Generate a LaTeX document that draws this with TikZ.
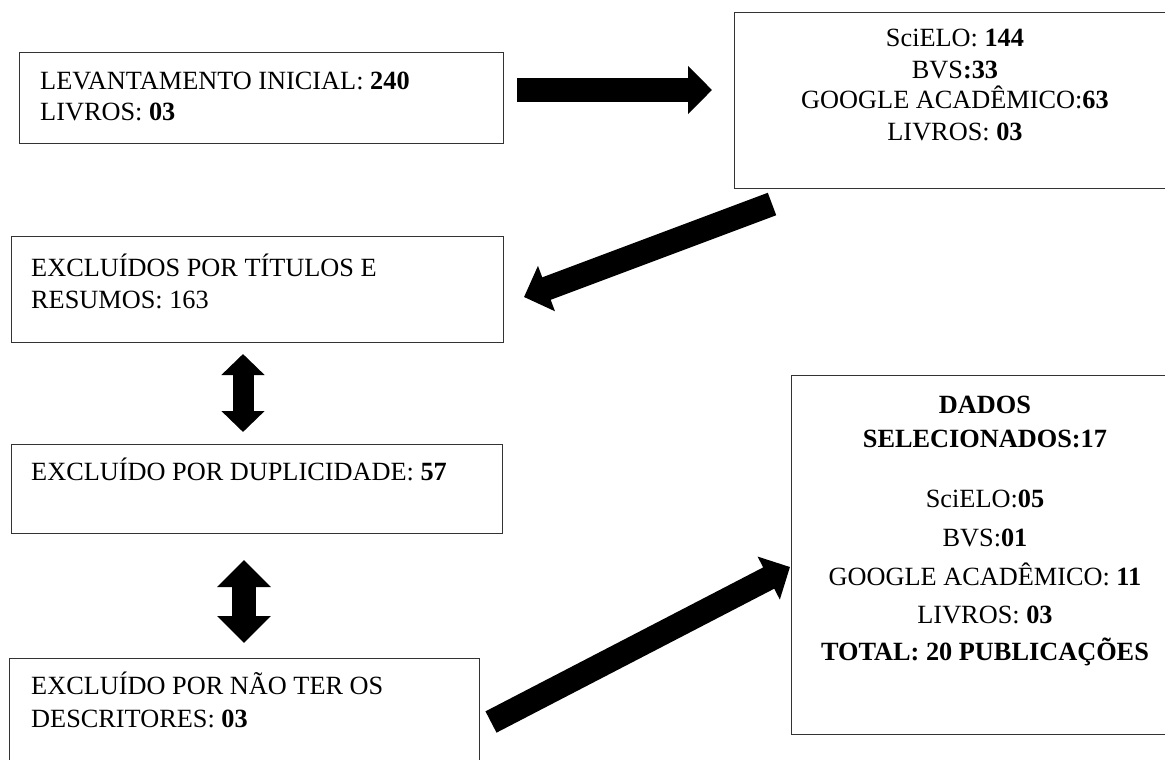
\documentclass[tikz,border=0pt]{standalone}
\usepackage{fontspec}
\setmainfont{Liberation Serif}
\usetikzlibrary{arrows.meta}
\begin{document}
\begin{tikzpicture}[x=1pt,y=-1pt,
  box/.style={draw=black!80, line width=1.3pt, rectangle, inner sep=0pt, anchor=north west},
  lbl/.style={inner sep=0pt, font=\fontsize{26.3}{31}\selectfont},
  txl/.style={lbl, anchor=base west},
  txc/.style={lbl, anchor=base},
  fat/.style={line width=24pt, -{Triangle[width=47pt,length=24pt]}},
  dblsmall/.style={line width=21pt, {Triangle[width=42pt,length=21pt]}-{Triangle[width=42pt,length=21pt]}},
  dblbig/.style={line width=24pt, {Triangle[width=52pt,length=27pt]}-{Triangle[width=52pt,length=27pt]}},
]
\useasboundingbox (0,0) rectangle (1165,760);
\clip (0,0) rectangle (1165,760);
\fill[white] (0,0) rectangle (1165,760);

% boxes
\node[box, minimum width=484pt, minimum height=91pt] (b1) at (19,52) {};
\node[box, minimum width=442pt, minimum height=176pt] (b2) at (734,12) {};
\node[box, minimum width=492pt, minimum height=106pt] (b3) at (11,236) {};
\node[box, minimum width=491pt, minimum height=89pt] (b4) at (11,444) {};
\node[box, minimum width=470pt, minimum height=130pt] (b5) at (9,658) {};
\node[box, minimum width=388pt, minimum height=359pt] (b6) at (791,375) {};

% texts
\node[txl] (t1a) at (40,89) {LEVANTAMENTO INICIAL: \textbf{240}};
\node[txl] (t1b) at (40,120) {LIVROS: \textbf{03}};

\node[txc] (t2a) at (955,47) {SciELO: \textbf{144}};
\node[txc] (t2b) at (955,78) {BVS\textbf{:33}};
\node[txc] (t2c) at (955,109) {GOOGLE ACADÊMICO:\textbf{63}};
\node[txc] (t2d) at (955,140) {LIVROS: \textbf{03}};

\node[txl] (t3a) at (31,276) {EXCLUÍDOS POR TÍTULOS E};
\node[txl] (t3b) at (31,308) {RESUMOS: 163};

\node[txl] (t4a) at (31,480) {EXCLUÍDO POR DUPLICIDADE: \textbf{57}};

\node[txl] (t5a) at (31,694) {EXCLUÍDO POR NÃO TER OS};
\node[txl] (t5b) at (31,727) {DESCRITORES: \textbf{03}};

\node[txc] (t6a) at (985,413) {\textbf{DADOS}};
\node[txc] (t6b) at (985,447) {\textbf{SELECIONADOS:17}};
\node[txc] (t6c) at (985,507) {SciELO:\textbf{05}};
\node[txc] (t6d) at (985,546) {BVS:\textbf{01}};
\node[txc] (t6e) at (985,585) {GOOGLE ACADÊMICO: \textbf{11}};
\node[txc] (t6f) at (985,623) {LIVROS: \textbf{03}};
\node[txc] (t6g) at (985,660) {\textbf{TOTAL: 20 PUBLICAÇÕES}};

% arrow end points
\coordinate (a1s) at (517,90);
\coordinate (a1e) at (712,90);
\coordinate (a2s) at (772,204);
\coordinate (a2e) at (524,297);
\coordinate (d1s) at (243,354);
\coordinate (d1e) at (243,432);
\coordinate (d2s) at (244,560);
\coordinate (d2e) at (244,643);
\coordinate (a3s) at (491,722);
\coordinate (a3e) at (790,567);

\draw[fat] (a1s) -- (a1e);
\draw[fat] (a2s) -- (a2e);
\draw[dblsmall] (d1s) -- (d1e);
\draw[dblbig] (d2s) -- (d2e);
\draw[fat] (a3s) -- (a3e);
\end{tikzpicture}
\end{document}
